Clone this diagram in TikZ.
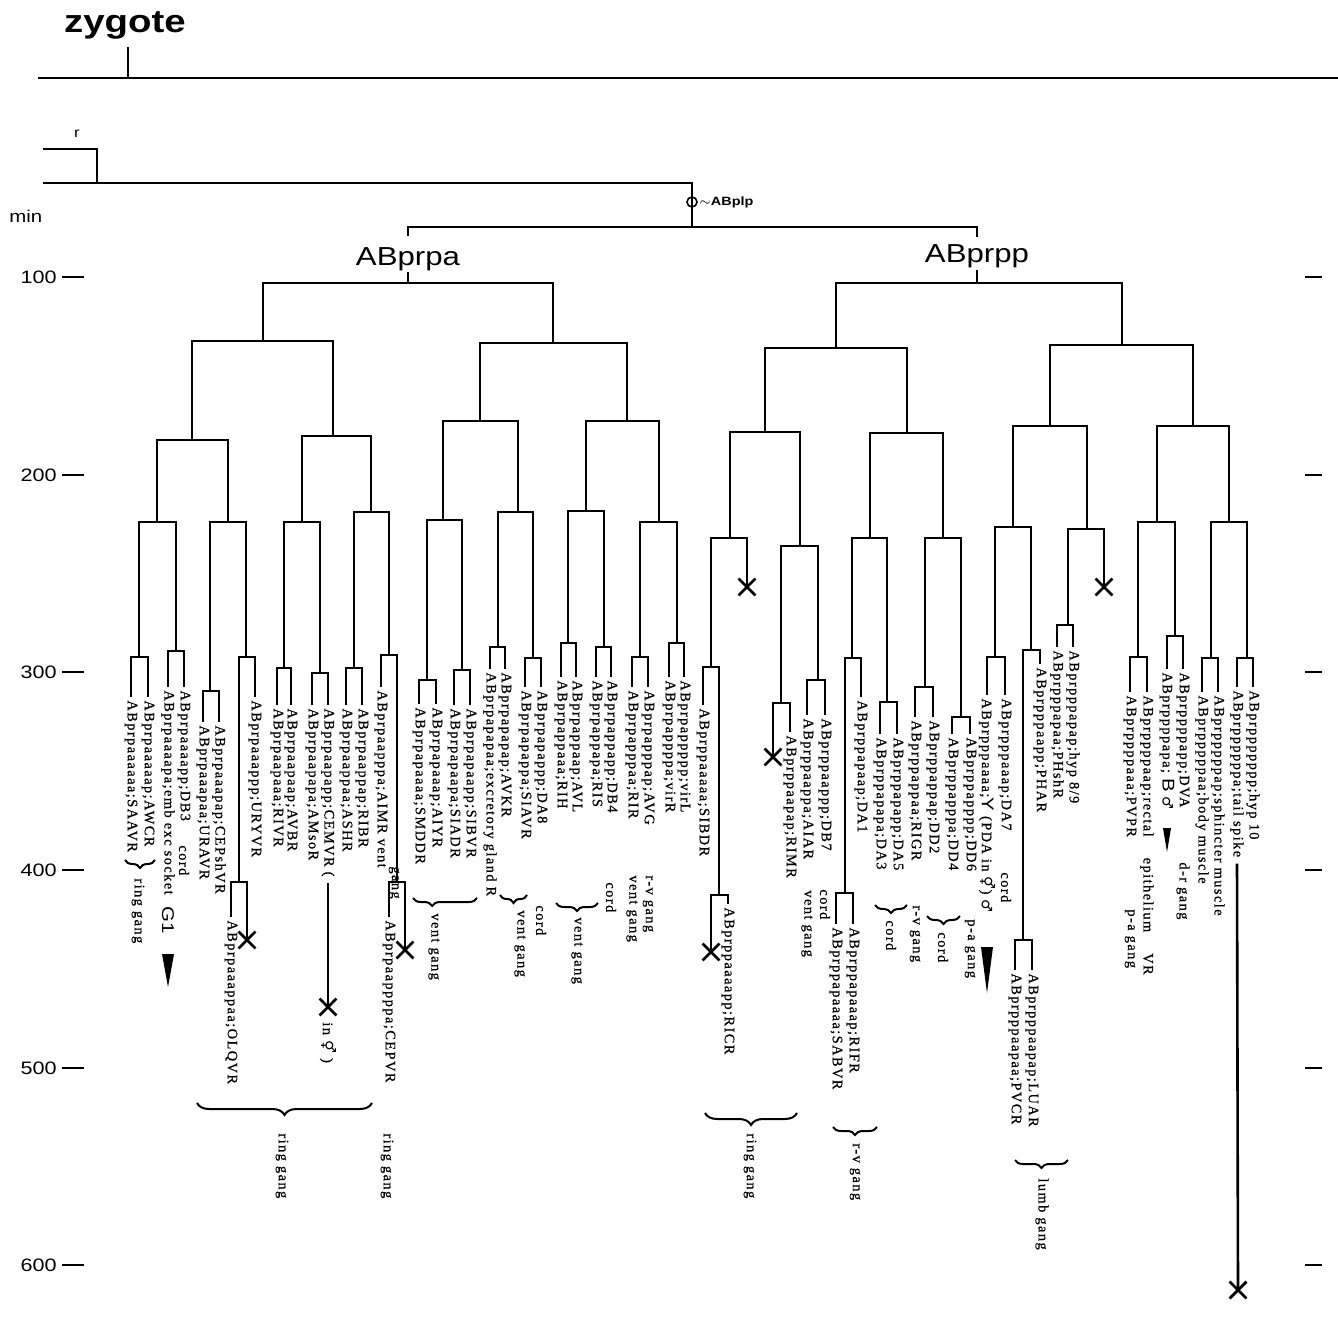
\documentclass[tikz,border=0pt]{standalone}
\usepackage{fontspec}
\setmainfont{Liberation Serif}
\newfontfamily\lblfont[LetterSpace=10,FakeBold=0.6]{Liberation Serif}
\newfontfamily\headfont[FakeStretch=1.2]{Liberation Sans}
\newfontfamily\symfont{DejaVu Sans}
\usetikzlibrary{decorations.pathreplacing,shapes.misc}

\begin{document}
\begin{tikzpicture}[x=0.5pt,y=-0.5pt,
  fork/.style={line width=1.3pt},
  lbl/.style={rotate=-90,anchor=west,inner sep=0pt,font=\lblfont\fontsize{7.2}{8}\selectfont},
  axtick/.style={line width=0.9pt},
  axlbl/.style={anchor=east,inner sep=0pt,font=\headfont\fontsize{9}{10}\selectfont},
  cellname/.style={anchor=base,inner sep=0pt,font=\headfont\fontsize{13}{15}\selectfont},
  die/.style={cross out,draw,line width=1.4pt,minimum size=7pt,inner sep=0pt},
  gbrace/.style={decorate,decoration={brace,amplitude=4pt},line width=1pt},
  bigbrace/.style={decorate,decoration={brace,amplitude=6pt},line width=1pt},
  big/.style={font=\headfont\fontsize{8.5}{9}\selectfont}]
\useasboundingbox (0,0) rectangle (1338,1337);

\node[anchor=base,inner sep=0pt,font=\headfont\bfseries\fontsize{16}{19}\selectfont] (zyg) at (125,33) {zygote};
\draw[fork] (128,47) -- (128,78);
\draw[fork] (38,78) -- (1338,78);
\node[inner sep=0pt,font=\headfont\fontsize{7}{8}\selectfont] (rlab) at (77,134) {r};
\draw[fork] (43,149) -| (97,183);
\draw[fork] (43,183) -- (692,183) -- (692,227);
\draw[line width=0.8pt] (692,202) circle (5);
\node[anchor=west,inner sep=0pt,font=\headfont\bfseries\fontsize{6}{7}\selectfont] (plp) at (699,202) {$\sim$ABplp};
\draw[fork] (408,236) |- (977,227) -- (977,237);
\node[cellname] (prpa) at (408,265) {ABprpa};
\node[cellname] (prpp) at (977,263) {ABprpp};

\node[anchor=west,inner sep=0pt,font=\headfont\fontsize{8.5}{10}\selectfont] (min) at (9,216) {min};
\foreach \t/\yy in {100/277,200/475,300/672,400/870,500/1068,600/1265}{
  \node[axlbl] (ax\t) at (57,\yy) {\t};
  \draw[axtick] (62,\yy) -- (84,\yy);
  \draw[axtick] (1305,\yy) -- (1322,\yy);
}

\node[die] (xOLQ) at (247,940) {};
\node[die] (xCEP) at (405,950) {};
\node[die] (xCEM) at (328,1007) {};
\node[die] (xA) at (747,587) {};
\node[die] (xRIC) at (711,952) {};
\node[die] (xRIM) at (773,757) {};
\node[die] (xB) at (1104,587) {};
\node[die] (xtail) at (1238,1290) {};

\draw[fork] (prpa.north |- 0,272) -- (408,283);
\draw[fork] (263,341) |- (553,283) -- (553,343);
\draw[fork] (192,440) |- (333,341) -- (333,436);
\draw[fork] (157,522) |- (228,440) -- (228,522);
\draw[fork] (139,657) |- (176,522) -- (176,651);
\draw[fork] (131,697) |- (148,657) -- (148,697);
\draw[fork] (168,687) |- (184,651) -- (184,687);
\draw[fork] (210,691) |- (246,522) -- (246,657);
\draw[fork] (203,722) |- (219,691) -- (219,722);
\draw[fork] (239,882) |- (255,657) -- (255,697);
\draw[fork] (231,917) |- (247,882) -- (xOLQ.center);
\draw[fork] (302,522) |- (371,436) -- (371,512);
\draw[fork] (284,668) |- (320,522) -- (320,673);
\draw[fork] (277,705) |- (291,668) -- (291,705);
\draw[fork] (312,705) |- (328,673) -- (328,705);
\draw[fork] (354,668) |- (389,512) -- (389,655);
\draw[fork] (346,705) |- (362,668) -- (362,705);
\draw[fork] (381,687) |- (397,655) -- (397,882);
\draw[fork] (389,917) |- (405,882) -- (xCEP.center);
\draw[fork] (480,421) |- (627,343) -- (627,421);
\draw[fork] (443,520) |- (518,421) -- (518,512);
\draw[fork] (427,680) |- (462,520) -- (462,670);
\draw[fork] (419,704) |- (436,680) -- (436,704);
\draw[fork] (454,705) |- (470,670) -- (470,705);
\draw[fork] (498,647) |- (533,512) -- (533,658);
\draw[fork] (490,669) |- (505,647) -- (505,669);
\draw[fork] (525,687) |- (541,658) -- (541,687);
\draw[fork] (586,511) |- (659,421) -- (659,522);
\draw[fork] (568,643) |- (604,511) -- (604,647);
\draw[fork] (561,677) |- (576,643) -- (576,677);
\draw[fork] (596,677) |- (611,647) -- (611,677);
\draw[fork] (640,657) |- (677,522) -- (677,643);
\draw[fork] (632,687) |- (648,657) -- (648,687);
\draw[fork] (669,677) |- (684,643) -- (684,677);

\draw[fork] (prpp.north |- 0,270) -- (977,283);
\draw[fork] (836,348) |- (1122,283) -- (1122,345);
\draw[fork] (765,432) |- (907,348) -- (907,433);
\draw[fork] (730,538) |- (800,432) -- (800,546);
\draw[fork] (711,667) |- (747,538) -- (xA.center);
\draw[fork] (703,705) |- (719,667) -- (719,895);
\draw[fork] (xRIC.center) |- (728,895) -- (728,904);
\draw[fork] (781,703) |- (818,546) -- (818,680);
\draw[fork] (xRIM.center) |- (790,703) -- (790,732);
\draw[fork] (807,715) |- (825,680) -- (825,715);
\draw[fork] (870,538) |- (943,433) -- (943,538);
\draw[fork] (852,658) |- (887,538) -- (887,702);
\draw[fork] (845,893) |- (861,658) -- (861,697);
\draw[fork] (836,924) |- (853,893) -- (853,924);
\draw[fork] (880,734) |- (897,702) -- (897,734);
\draw[fork] (925,687) |- (961,538) -- (961,717);
\draw[fork] (915,717) |- (933,687) -- (933,717);
\draw[fork] (952,734) |- (970,717) -- (970,734);
\draw[fork] (1050,426) |- (1193,345) -- (1193,426);
\draw[fork] (1013,527) |- (1087,426) -- (1087,529);
\draw[fork] (995,657) |- (1031,527) -- (1031,650);
\draw[fork] (987,695) |- (1005,657) -- (1005,695);
\draw[fork] (1023,940) |- (1040,650) -- (1040,664);
\draw[fork] (1015,970) |- (1032,940) -- (1032,970);
\draw[fork] (1068,625) |- (1104,529) -- (xB.center);
\draw[fork] (1057,647) |- (1073,625) -- (1073,647);
\draw[fork] (1157,522) |- (1229,426) -- (1229,522);
\draw[fork] (1138,657) |- (1175,522) -- (1175,636);
\draw[fork] (1130,692) |- (1147,657) -- (1147,692);
\draw[fork] (1167,669) |- (1183,636) -- (1183,669);
\draw[fork] (1211,658) |- (1247,522) -- (1247,658);
\draw[fork] (1202,692) |- (1218,658) -- (1218,692);
\draw[fork] (1237,687) |- (1253,658) -- (1253,687);

\node[lbl] (SAAVR) at (131,700) {ABprpaaaaaa;SAAVR};
\node[lbl] (AWCR) at (148,700) {ABprpaaaaap;AWCR};
\node[lbl] (exc) at (168,690) {ABprpaaaapa;emb exc socket};
\node[lbl] (DBiii) at (184,690) {ABprpaaaapp;DB3};
\node[lbl] (URAVR) at (203,725) {ABprpaaapaa;URAVR};
\node[lbl] (CEPshVR) at (219,725) {ABprpaaapap;CEPshVR};
\node[lbl] (URYVR) at (255,700) {ABprpaaappp;URYVR};
\node[lbl] (OLQVR) at (231,920) {ABprpaaappaa;OLQVR};
\node[lbl] (RIVR) at (277,708) {ABprpaapaaa;RIVR};
\node[lbl] (AVBR) at (291,708) {ABprpaapaap;AVBR};
\node[lbl] (AMsoR) at (312,708) {ABprpaapapa;AMsoR};
\node[lbl] (CEMVR) at (328,708) {ABprpaapapp;CEMVR (};
\node[lbl] (ASHR) at (346,708) {ABprpaappaa;ASHR};
\node[lbl] (RIBR) at (362,708) {ABprpaappap;RIBR};
\node[lbl] (AIMR) at (381,690) {ABprpaapppa;AIMR vent};
\node[lbl] (CEPVR) at (389,920) {ABprpaappppa;CEPVR};
\node[lbl] (SMDDR) at (419,707) {ABprpapaaaa;SMDDR};
\node[lbl] (AIYR) at (436,707) {ABprpapaaap;AIYR};
\node[lbl] (SIADR) at (454,708) {ABprpapaapa;SIADR};
\node[lbl] (SIBVR) at (470,708) {ABprpapaapp;SIBVR};
\node[lbl] (excgl) at (490,672) {ABprpapapaa;excretory gland R};
\node[lbl] (AVKR) at (505,672) {ABprpapapap;AVKR};
\node[lbl] (SIAVR) at (525,690) {ABprpapappa;SIAVR};
\node[lbl] (DAviii) at (541,690) {ABprpapappp;DA8};
\node[lbl] (RIH) at (561,680) {ABprpappaaa;RIH};
\node[lbl] (AVL) at (576,680) {ABprpappaap;AVL};
\node[lbl] (RIS) at (596,680) {ABprpappapa;RIS};
\node[lbl] (DBiv) at (611,680) {ABprpappapp;DB4};
\node[lbl] (RIR) at (632,690) {ABprpapppaa;RIR};
\node[lbl] (AVG) at (648,690) {ABprpapppap;AVG};
\node[lbl] (virR) at (669,680) {ABprpappppa;virR};
\node[lbl] (virL) at (684,680) {ABprpappppp;virL};

\node[lbl] (SIBDR) at (703,708) {ABprppaaaaa;SIBDR};
\node[lbl] (RICR) at (728,907) {ABprppaaaapp;RICR};
\node[lbl] (RIMR) at (790,735) {ABprppaapap;RIMR};
\node[lbl] (AIAR) at (807,718) {ABprppaappa;AIAR};
\node[lbl] (DBvii) at (825,718) {ABprppaappp;DB7};
\node[lbl] (DAi) at (861,700) {ABprppapaap;DA1};
\node[lbl] (SABVR) at (836,927) {ABprppapaaaa;SABVR};
\node[lbl] (RIFR) at (853,927) {ABprppapaaap;RIFR};
\node[lbl] (DAiii) at (880,737) {ABprppapapa;DA3};
\node[lbl] (DAv) at (897,737) {ABprppapapp;DA5};
\node[lbl] (RIGR) at (915,720) {ABprppappaa;RIGR};
\node[lbl] (DDii) at (933,720) {ABprppappap;DD2};
\node[lbl] (DDiv) at (952,737) {ABprppapppa;DD4};
\node[lbl] (DDvi) at (970,737) {ABprppapppp;DD6};
\node[lbl] (Ycell) at (987,698) {ABprpppaaaa;{\headfont\fontsize{8.5}{9}\selectfont Y} (PDA in {\symfont ⚥}) {\symfont ♂}};
\node[lbl] (DAvii) at (1005,698) {ABprpppaaap;DA7};
\node[lbl] (PHAR) at (1040,667) {ABprpppaapp;PHAR};
\node[lbl] (PVCR) at (1015,973) {ABprpppaapaa;PVCR};
\node[lbl] (LUAR) at (1032,973) {ABprpppaapap;LUAR};
\node[lbl] (PHshR) at (1057,650) {ABprpppapaa;PHshR};
\node[lbl] (hypix) at (1073,650) {ABprpppapap;hyp 8/9};
\node[lbl] (PVPR) at (1130,695) {ABprppppaaa;PVPR};
\node[lbl] (rect) at (1147,695) {ABprppppaap;rectal\hspace{8pt} epithelium\hspace{8pt} VR};
\node[lbl] (Bcell) at (1167,672) {ABprppppapa;~{\headfont\fontsize{8.5}{9}\selectfont B} {\symfont ♂}};
\node[lbl] (DVA) at (1183,672) {ABprppppapp;DVA};
\node[lbl] (bmus) at (1202,695) {ABprpppppaa;body muscle};
\node[lbl] (smus) at (1218,695) {ABprpppppap;sphincter muscle};
\node[lbl] (tail) at (1237,690) {ABprppppppa;tail spike};
\node[lbl] (hypx) at (1253,690) {ABprppppppp;hyp 10};

\draw[fork] ([yshift=-3pt]CEMVR.east) -- (xCEM.center);
\node[lbl] (inher) at (328,1022) {in {\symfont ⚥} )};
\draw[fork] ([yshift=-3pt]tail.east) -- (xtail.center);

\node[lbl,big] (Gi) at (168,906) {G1};
\fill (162,954) -- (174,954) -- (168,987) -- cycle;
\fill (981,947) -- (993,947) -- (987,993) -- cycle;
\fill (1163,828) -- (1171,828) -- (1167,852) -- cycle;

\draw[gbrace] (155,860) -- (125,860);
\node[lbl] (rgi) at (138,878) {ring gang};
\node[lbl] (cDBiii) at (184,845) {cord};
\node[lbl] (gAIMR) at (394,866) {gang};
\draw[bigbrace] (372,1103) -- (197,1103);
\node[lbl] (rgii) at (282,1133) {ring gang};
\node[lbl] (rgiii) at (387,1133) {ring gang};
\draw[gbrace,decoration={aspect=0.7}] (477,898) -- (413,898);
\node[lbl] (vgi) at (434,913) {vent gang};
\draw[gbrace] (527,895) -- (500,895);
\node[lbl] (vgii) at (520,910) {vent gang};
\node[lbl] (cDAviii) at (541,905) {cord};
\draw[gbrace] (598,903) -- (556,903);
\node[lbl] (vgiii) at (577,917) {vent gang};
\node[lbl] (cDBiv) at (611,882) {cord};
\node[lbl] (vgRIR) at (632,875) {vent gang};
\node[lbl] (rvAVG) at (648,875) {r-v gang};
\node[lbl] (vgAIAR) at (807,890) {vent gang};
\node[lbl] (cDBvii) at (825,889) {cord};
\draw[bigbrace] (797,1113) -- (705,1113);
\node[lbl] (rgiv) at (750,1133) {ring gang};
\draw[gbrace] (877,1127) -- (833,1127);
\node[lbl] (rvi) at (855,1143) {r-v gang};
\draw[gbrace] (907,905) -- (875,905);
\node[lbl] (cDA) at (891,920) {cord};
\node[lbl] (rvRIGR) at (915,905) {r-v gang};
\draw[gbrace] (960,916) -- (927,916);
\node[lbl] (cDD) at (943,932) {cord};
\node[lbl] (paDD) at (970,919) {p-a gang};
\node[lbl] (cDAvii) at (1006,872) {cord};
\draw[gbrace] (1068,1160) -- (1015,1160);
\node[lbl] (lumb) at (1042,1178) {lumb gang};
\node[lbl] (paPVPR) at (1130,909) {p-a gang};
\node[lbl] (drDVA) at (1183,862) {d-r gang};
\end{tikzpicture}
\end{document}
